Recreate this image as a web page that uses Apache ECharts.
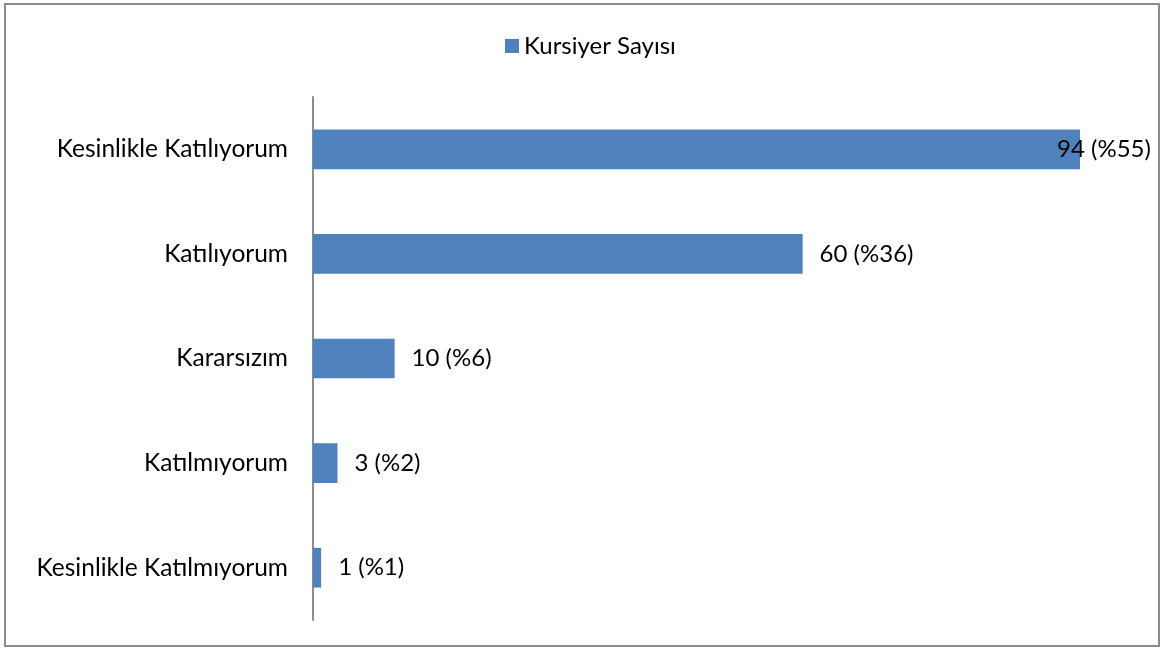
<!DOCTYPE html>
<html>
<head>
<meta charset="utf-8">
<script src="https://cdn.jsdelivr.net/npm/echarts@6/dist/echarts.min.js"></script>
<style>
  html, body { margin: 0; padding: 0; background: #fff; }
  #chart { width: 1161px; height: 648px; }
</style>
</head>
<body>
<div id="chart"></div>
<script>
// Survey answers and the number of trainees per answer
const categories = ['Kesinlikle Katılıyorum', 'Katılıyorum', 'Kararsızım', 'Katılmıyorum', 'Kesinlikle Katılmıyorum'];
const counts = [94, 60, 10, 3, 1];
const percents = [55, 36, 6, 2, 1];
const seriesName = 'Kursiyer Sayısı';

const FONT = 'Lato, "Open Sans", sans-serif';
const FONT_SIZE = 24;

const chart = echarts.init(document.getElementById('chart'), null, { renderer: 'canvas' });

const barData = counts.map((v, i) => {
  const item = { value: v };
  // the longest bar keeps its label within the plot area
  if (i === 0) item.label = { offset: [-40, 0] };
  return item;
});

chart.setOption({
  animation: false,
  backgroundColor: '#ffffff',
  graphic: [{
    type: 'rect',
    shape: { x: 5, y: 4, width: 1154, height: 642 },
    style: { fill: 'none', stroke: '#8c8c8c', lineWidth: 2 },
    silent: true
  }],
  legend: {
    data: [seriesName],
    left: 500,
    top: 29,
    itemWidth: 14,
    itemHeight: 14,
    itemGap: 6,
    icon: 'rect',
    textStyle: { fontFamily: FONT, fontSize: FONT_SIZE, color: '#000' }
  },
  grid: { left: 313, right: 32, top: 97, bottom: 28, containLabel: false },
  xAxis: {
    type: 'value',
    min: 0,
    max: 100,
    show: false
  },
  yAxis: {
    type: 'category',
    data: categories,
    inverse: true,
    axisLine: { show: true, lineStyle: { color: '#8c8c8c', width: 2 } },
    axisTick: { show: false },
    axisLabel: { margin: 25, fontFamily: FONT, fontSize: 24.5, color: '#000' },
    splitLine: { show: false }
  },
  series: [{
    name: seriesName,
    type: 'bar',
    data: barData,
    barWidth: '38%',
    itemStyle: { color: '#4f81bd' },
    label: {
      show: true,
      position: 'right',
      distance: 17,
      fontFamily: FONT,
      fontSize: FONT_SIZE,
      color: '#000',
      formatter: p => p.value + ' (%' + percents[p.dataIndex] + ')'
    }
  }]
});
</script>
</body>
</html>
